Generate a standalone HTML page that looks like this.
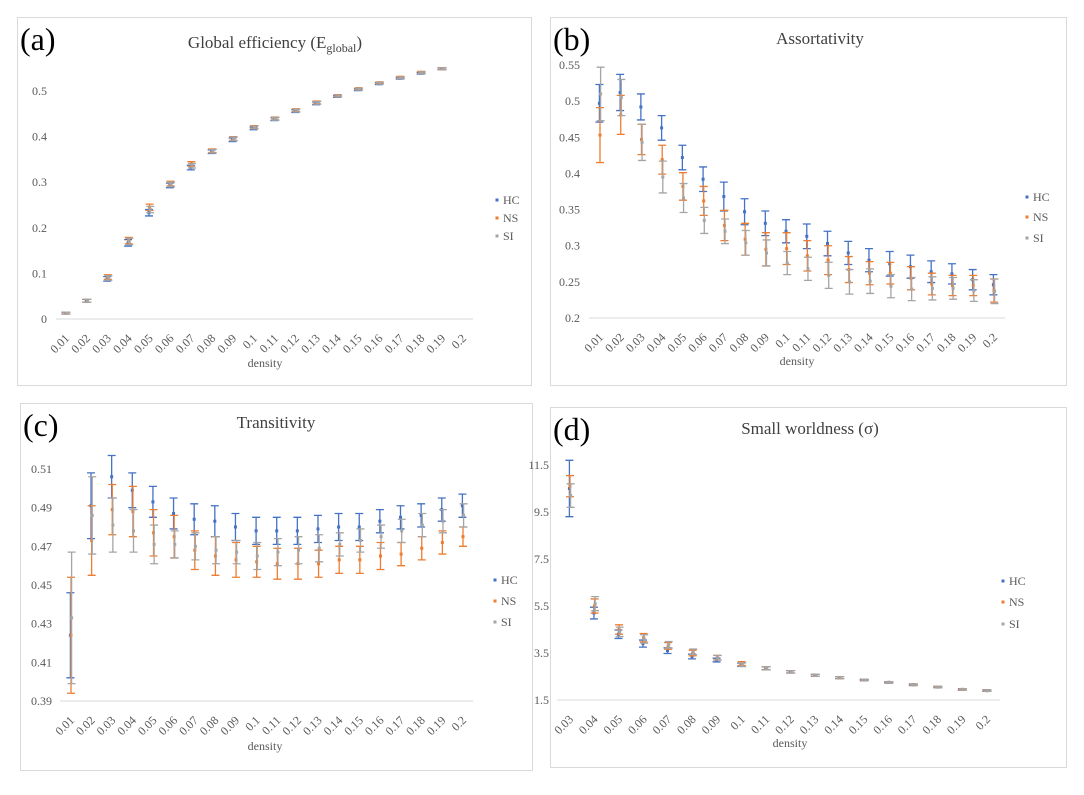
<!DOCTYPE html>
<html><head><meta charset="utf-8"><style>
body{margin:0;background:#fff;}
svg text{font-family:"Liberation Serif",serif;}
</style></head><body>
<svg id="chart" width="1084" height="790" viewBox="0 0 1084 790" xmlns="http://www.w3.org/2000/svg"></svg>
<script>
const catsA=["0.01","0.02","0.03","0.04","0.05","0.06","0.07","0.08","0.09","0.1","0.11","0.12","0.13","0.14","0.15","0.16","0.17","0.18","0.19","0.2"];
const catsD=["0.03","0.04","0.05","0.06","0.07","0.08","0.09","0.1","0.11","0.12","0.13","0.14","0.15","0.16","0.17","0.18","0.19","0.2"];
const ticksA=[0,0.1,0.2,0.3,0.4,0.5];
const ticksB=[0.2,0.25,0.3,0.35,0.4,0.45,0.5,0.55];
const ticksC=[0.39,0.41,0.43,0.45,0.47,0.49,0.51];
const ticksD=[1.5,3.5,5.5,7.5,9.5,11.5];
const aHC=[.013,.04,.088,.167,.233,.293,.332,.367,.393,.418,.438,.456,.473,.488,.503,.516,.528,.539,.549,null];
const aNS=[.013,.04,.092,.172,.245,.297,.34,.369,.396,.421,.44,.458,.475,.49,.505,.518,.53,.541,.549,null];
const aSI=[.013,.04,.09,.17,.24,.295,.336,.368,.395,.42,.439,.457,.474,.489,.504,.517,.529,.54,.549,null];
const aErr=[.002,.003,.005,.007,.007,.005,.005,.004,.004,.003,.003,.003,.003,.002,.002,.002,.002,.002,.002,0];
const bHC=[.497,.512,.492,.463,.422,.392,.368,.347,.331,.320,.313,.303,.290,.280,.275,.271,.264,.261,.253,.246];
const bHCe=[.026,.025,.018,.017,.017,.017,.02,.018,.017,.016,.017,.017,.016,.016,.017,.016,.015,.014,.014,.014];
const bNS=[.453,.481,.447,.419,.382,.362,.328,.309,.295,.296,.286,.280,.267,.262,.262,.255,.247,.245,.245,.238];
const bNSe=[.038,.027,.021,.02,.019,.02,.021,.022,.023,.022,.021,.02,.018,.016,.015,.016,.015,.014,.014,.016];
const bSI=[.510,.505,.443,.395,.366,.335,.320,.304,.290,.276,.268,.259,.250,.251,.244,.240,.241,.241,.238,.237];
const bSIe=[.037,.025,.025,.022,.02,.018,.017,.017,.018,.016,.016,.018,.017,.017,.016,.016,.016,.015,.015,.017];
const cHC=[.424,.491,.506,.499,.493,.487,.484,.483,.480,.478,.478,.478,.479,.480,.480,.483,.485,.486,.489,.491];
const cHCe=[.022,.017,.011,.009,.008,.008,.008,.008,.007,.007,.007,.007,.007,.007,.007,.006,.006,.006,.006,.006];
const cNS=[.424,.473,.489,.488,.477,.475,.468,.465,.463,.462,.461,.461,.461,.463,.463,.465,.466,.469,.472,.475];
const cNSe=[.030,.018,.013,.013,.012,.011,.010,.010,.009,.008,.008,.008,.007,.007,.007,.007,.006,.006,.006,.005];
const cSI=[.433,.486,.481,.478,.471,.471,.470,.468,.467,.465,.467,.468,.469,.471,.473,.475,.478,.481,.483,.486];
const cSIe=[.034,.020,.014,.011,.010,.007,.007,.007,.006,.007,.007,.007,.007,.006,.006,.006,.006,.006,.006,.006];
const dHC=[10.5,5.2,4.3,3.9,3.6,3.35,3.2,3.0,2.85,2.7,2.55,2.45,2.35,2.25,2.15,2.05,1.95,1.9];
const dHCe=[1.2,.25,.18,.15,.12,.1,.08,.07,.06,.05,.04,.04,.03,.03,.03,.03,.03,.03];
const dNS=[10.6,5.5,4.5,4.15,3.8,3.5,3.3,3.05,2.85,2.7,2.55,2.45,2.35,2.25,2.15,2.05,1.95,1.9];
const dNSe=[.45,.3,.2,.18,.14,.12,.1,.08,.06,.05,.04,.04,.03,.03,.03,.03,.03,.03];
const dSI=[10.2,5.6,4.4,4.1,3.85,3.55,3.3,3.0,2.85,2.7,2.55,2.45,2.35,2.25,2.15,2.05,1.95,1.9];
const dSIe=[.5,.3,.2,.18,.14,.12,.1,.08,.06,.05,.04,.04,.03,.03,.03,.03,.03,.03];

const svg=document.getElementById('chart');
const NS='http://www.w3.org/2000/svg';
const COL={HC:'#4472c4',NS:'#ed7d31',SI:'#a5a5a5'};
function mk(tag,attrs,parent){const e=document.createElementNS(NS,tag);for(const k in attrs)e.setAttribute(k,attrs[k]);(parent||svg).appendChild(e);return e;}

function panel(p){
  const g=mk('g',{});
  
  
  const box=mk('rect',{x:p.box[0]+.5,y:p.box[1]+.5,width:p.box[2],height:p.box[3],fill:'#fff',stroke:'#d9d9d9'},g);
  
  
  const lab=mk('text',{x:p.box[0]+3,y:p.box[1]+33,'font-size':32,fill:'#000'},g);
  lab.textContent='('+p.id+')';
  
  
  const t=mk('text',{x:p.titleX,y:p.titleY,'font-size':17,fill:'#404040','text-anchor':'middle'},g);
  t.innerHTML=p.title;
  
  
  const yS=v=>p.y0+(v-p.ymin)/(p.ymax-p.ymin)*(p.y1-p.y0);
  const xS=i=>p.x0+i*(p.x1-p.x0)/(p.cats.length-1);
  p.ticks.forEach(v=>{
    const tx=mk('text',{x:p.tickX,y:yS(v)+4,'font-size':12,fill:'#595959','text-anchor':'end'},g);
    tx.textContent=v;
    
    
  });
  const ax=mk('line',{x1:p.axL,x2:p.axR,y1:p.y0,y2:p.y0,stroke:'#d9d9d9','stroke-width':1},g);
  
  
  p.cats.forEach((c,i)=>{
    const x=xS(i),y=p.y0+20;
    const tx=mk('text',{x:x+4,y:y,'font-size':12,fill:'#595959','text-anchor':'end',transform:`rotate(-45 ${x+4} ${y})`},g);
    tx.textContent=c;
    
    
  });
  const xt=mk('text',{x:p.xtX,y:p.xtY,'font-size':12,fill:'#595959','text-anchor':'middle'},g);
  xt.textContent='density';
  
  
  p.series.forEach((s,si)=>{
    const sg=mk('g',{},g);
    
    
    const off=(si-1)*0.6;
    s.vals.forEach((v,i)=>{
      if(v==null)return;
      const x=xS(i)+off,e=s.err[i],ya=yS(v+e),yb=yS(v-e);
      const eb=mk('path',{d:`M${x},${ya}V${yb}M${x-4},${ya}H${x+4}M${x-4},${yb}H${x+4}`,stroke:COL[s.name],'stroke-width':1.3,fill:'none'},sg);
      
      
      const pt=mk('rect',{x:x-1.5,y:yS(v)-1.5,width:3,height:3,fill:COL[s.name]},sg);
      
      
    });
    const ly=p.legY[si];
    const lm=mk('rect',{x:p.legX-1.5,y:ly-1.5,width:3,height:3,fill:COL[s.name]},g);
    
    
    const lt=mk('text',{x:p.legX+6,y:ly+4,'font-size':12,fill:'#595959'},g);
    lt.textContent=s.name;
    
    
  });
}

panel({id:'a',box:[17,17,514,368],title:'Global efficiency (E<tspan font-size="12" dy="4">global</tspan><tspan dy="-4">)</tspan>',titleX:275,titleY:48,
  cats:catsA,ticks:ticksA,ymin:0,ymax:0.5,y0:319,y1:91,x0:66,x1:463,axL:56,axR:473,tickX:47,xtX:265,xtY:367,
  legX:497,legY:[200,218,236],
  series:[{name:'HC',vals:aHC,err:aErr},{name:'NS',vals:aNS,err:aErr},{name:'SI',vals:aSI,err:aErr}]});
panel({id:'b',box:[550,17,516,368],title:'Assortativity',titleX:820,titleY:44,
  cats:catsA,ticks:ticksB,ymin:0.2,ymax:0.55,y0:318,y1:65,x0:600,x1:994,axL:589,axR:1005,tickX:580,xtX:797,xtY:365,
  legX:1027,legY:[197,217,238],
  series:[{name:'HC',vals:bHC,err:bHCe},{name:'NS',vals:bNS,err:bNSe},{name:'SI',vals:bSI,err:bSIe}]});
panel({id:'c',box:[20,403,512,367],title:'Transitivity',titleX:276,titleY:428,
  cats:catsA,ticks:ticksC,ymin:0.39,ymax:0.51,y0:701,y1:469,x0:71,x1:463,axL:60,axR:473,tickX:52,xtX:265,xtY:750,
  legX:495,legY:[580,601,622],
  series:[{name:'HC',vals:cHC,err:cHCe},{name:'NS',vals:cNS,err:cNSe},{name:'SI',vals:cSI,err:cSIe}]});
panel({id:'d',box:[550,407,516,360],title:'Small worldness (σ)',titleX:810,titleY:434,
  cats:catsD,ticks:ticksD,ymin:1.5,ymax:11.5,y0:700,y1:465,x0:570,x1:987,axL:557,axR:1000,tickX:549,xtX:790,xtY:747,
  legX:1003,legY:[581,602,624],
  series:[{name:'HC',vals:dHC,err:dHCe},{name:'NS',vals:dNS,err:dNSe},{name:'SI',vals:dSI,err:dSIe}]});
</script>
</body></html>
